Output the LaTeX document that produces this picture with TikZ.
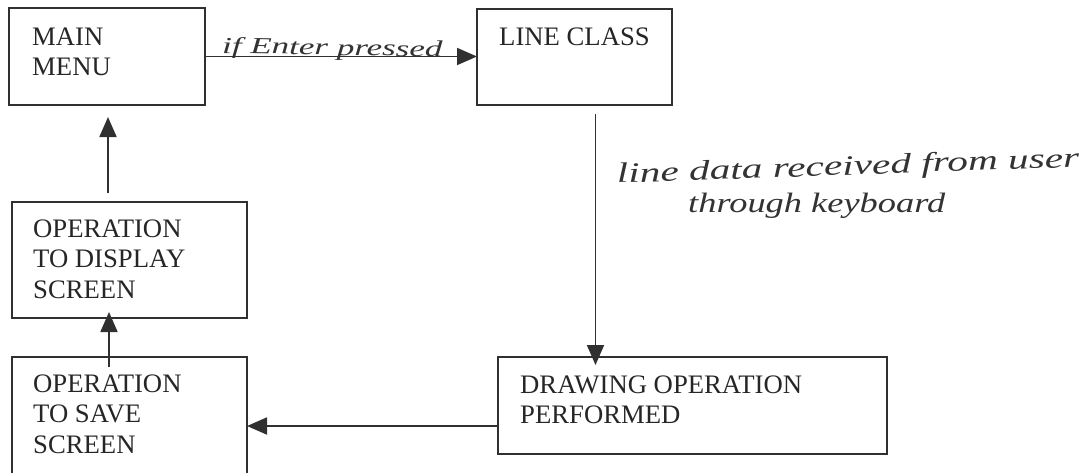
\documentclass[tikz,border=0pt]{standalone}
\usepackage{fontspec}
\setmainfont{Liberation Serif}
\usepackage{graphicx}
\usetikzlibrary{arrows.meta,calc}
\definecolor{ink}{HTML}{303030}
\tikzset{
 box/.style={draw=ink, line width=1.8pt, inner sep=0pt, outer sep=0pt, anchor=north west},
 txt/.style={font=\fontsize{26.7}{30.8}\selectfont, align=left, inner sep=0pt, anchor=north west, text=black!85},
 arr/.style={draw=ink, line width=1.8pt, -{Triangle[length=20pt,width=17pt]}},
 hand/.style={font=\fontsize{23}{26}\selectfont\itshape, inner sep=0pt, anchor=base west, text=black!80},
 handbig/.style={hand, font=\fontsize{28}{32}\selectfont\itshape}
}
\begin{document}
\begin{tikzpicture}[x=1pt,y=-1pt]
\useasboundingbox (0,0) rectangle (1092,472);
\fill[white] (0,0) rectangle (1092,472);
\clip (0,0) rectangle (1092,472);
% boxes
\node[box, minimum width=196pt, minimum height=97pt] (mm) at (9,8) {};
\node[box, minimum width=195pt, minimum height=96pt] (lc) at (477,9) {};
\node[box, minimum width=235pt, minimum height=116pt] (dp) at (12,202) {};
\node[box, minimum width=235pt, minimum height=130pt] (sv) at (12,357) {};
\node[box, minimum width=389pt, minimum height=97pt] (dr) at (498,357) {};
% texts
\node[txt] (mmt) at ([xshift=23pt,yshift=-19.3pt]mm.north west) {MAIN\\MENU};
\node[txt] (lct) at ([xshift=22pt,yshift=-18.3pt]lc.north west) {LINE CLASS};
\node[txt] (dpt) at ([xshift=21pt,yshift=-17.3pt]dp.north west) {OPERATION\\TO DISPLAY\\SCREEN};
\node[txt] (svt) at ([xshift=21pt,yshift=-17.3pt]sv.north west) {OPERATION\\TO SAVE\\SCREEN};
\node[txt] (drt) at ([xshift=22pt,yshift=-18.3pt]dr.north west) {DRAWING OPERATION\\PERFORMED};
% connectors
\draw[arr] (mm.east) -- (mm.east -| lc.west);
\coordinate (a) at ([xshift=21pt,yshift=-9pt]lc.south);
\draw[arr] (a) -- ([yshift=-8pt]a |- dr.north);
\draw[arr] ([yshift=-20.5pt]dr.west) -- ([yshift=-20.5pt]dr.west -| sv.east);
\draw[arr] ([xshift=-20.5pt,yshift=-10pt]sv.north) -- ([xshift=-20.5pt,yshift=6pt]dp.south);
\coordinate (b) at ([xshift=-21.5pt,yshift=9pt]dp.north);
\draw[arr] (b) -- ([yshift=-12pt]b |- mm.south);
% handwritten labels
\node[hand, rotate=-1] (l1) at (222,53) {\scalebox{1.52}[1]{if Enter pressed}};
\node[handbig, rotate=2] (l2) at (617,183) {\scalebox{1.475}[1]{line data received from user}};
\node[handbig] (l3) at (688,212) {\scalebox{1.3}[1]{through keyboard}};
\end{tikzpicture}
\end{document}
